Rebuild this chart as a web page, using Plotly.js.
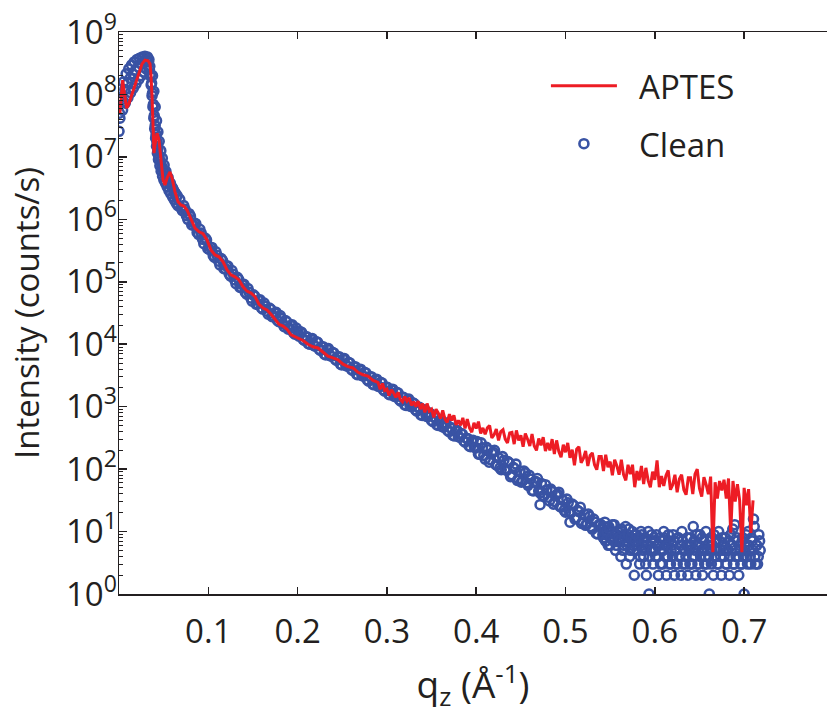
<!DOCTYPE html>
<html><head><meta charset="utf-8">
<script src="https://cdn.plot.ly/plotly-3.0.1.min.js"></script>
<style>html,body{margin:0;padding:0;background:#fff}</style>
</head><body>
<div id="chart" style="width:827px;height:719px"></div>
<script>
// q_z values (1/Angstrom) and log10(intensity, counts/s).
// ---- Clean sample: critical-edge region (three overlapping rows) and drop
const cleanQPeak = [0.002,0.005,0.008,0.011,0.014,0.017,0.020,0.023,0.026,0.029,0.032,
0.0005,0.0035,0.0065,0.0095,0.0125,0.0155,0.0185,0.0215,0.0245,0.0275,0.0305,0.0330,
0.0000,0.0010,0.0040,0.0070,0.0100,0.0130,0.0160,0.0190,0.0220,0.0250,0.0280,0.0310,
0.0335,0.0340,0.0345,0.0350,0.0355,0.0360,0.0365,0.0370,0.0375,0.0380,0.0385,0.0390,0.0395,0.0400,0.0405,0.0410,0.0415,0.0420,0.0425,0.0430,0.0435,0.0442,0.0450,0.0458,0.0465,0.0472,0.0480,0.0488,0.0495,0.0503,0.0510,0.0520,0.0530,0.0540,0.0550,0.0560,0.0570,0.0580,0.0590,0.0600,0.0610,0.0620,0.0630,0.0640,0.0650,0.0660,
0.0375,0.0390,0.0405,0.0420,0.0435,0.0450,0.0468,0.0485,0.0505,0.0525,0.0550,0.0575,0.0600,0.0625,0.0650];
const cleanLogPeak = [7.95,8.20,8.33,8.41,8.47,8.52,8.56,8.58,8.60,8.61,8.60,
7.70,7.92,8.08,8.18,8.26,8.33,8.39,8.44,8.49,8.53,8.55,8.52,
7.41,7.62,7.75,7.86,7.95,8.03,8.10,8.17,8.24,8.30,8.36,8.40,
8.56,8.40,8.45,8.30,8.33,8.15,8.18,7.98,8.02,7.80,7.84,7.62,7.66,7.45,7.50,7.30,7.36,7.17,7.24,7.06,7.13,6.96,7.02,6.86,6.93,6.77,6.85,6.69,6.79,6.63,6.74,6.58,6.68,6.52,6.62,6.46,6.57,6.41,6.52,6.36,6.47,6.31,6.42,6.26,6.38,6.22,
8.30,8.05,7.80,7.58,7.40,7.25,7.10,6.98,6.87,6.77,6.67,6.58,6.50,6.43,6.37];
// ---- Clean sample: decay band, first row
const cleanQBand = [0.068,0.071,0.074,0.077,0.080,0.083,0.086,0.089,0.092,0.095,0.098,
0.101,0.104,0.107,0.110,0.113,0.116,0.119,0.122,0.125,0.128,0.131,0.134,0.137,0.140,0.143,0.146,0.149,
0.152,0.155,0.158,0.161,0.164,0.167,0.170,0.173,0.176,0.179,0.182,0.185,0.188,0.191,0.194,0.197,0.200,
0.203,0.206,0.209,0.212,0.215,0.218,0.221,0.224,0.227,0.230,0.233,0.236,0.239,0.242,0.245,0.248,0.251,0.254,0.257,0.260,0.263,0.266,0.269,0.272,0.275,0.278,0.281,0.284,0.287,0.290,0.293,0.296,0.299,
0.302,0.305,0.308,0.311,0.314,0.317,0.320,0.323,0.326,0.329,0.332,0.335,0.338,0.341,0.344,0.347,0.350,0.353,0.356,0.359,0.362,0.365,0.368,0.371,0.374,0.377,0.380,0.383,0.386,0.389,0.392,0.395,0.398,
0.401,0.404,0.407,0.410,0.413,0.416,0.419,0.422,0.425,0.428,0.431,0.434,0.437,0.440,0.443,0.446,0.449,0.452,0.455,0.458,0.461,0.464,0.467,0.470,0.473,0.476,0.479,0.482,0.485,0.488,0.491,0.494,0.497,0.500,0.503,0.506,0.509,0.512,0.515,0.518,0.521,0.524,0.527,0.530,0.533,0.536,0.539,
0.4715,0.5050];
const cleanLogBand = [6.32,6.14,6.16,6.00,6.05,5.91,5.93,5.76,5.78,5.61,5.67,
5.52,5.55,5.39,5.42,5.27,5.34,5.21,5.25,5.09,5.12,4.97,5.04,4.91,4.96,4.80,4.83,4.69,
4.77,4.65,4.71,4.56,4.61,4.48,4.56,4.45,4.51,4.36,4.41,4.28,4.36,4.25,4.31,4.16,4.21,
4.20,4.08,4.12,4.01,4.08,3.98,4.04,3.92,3.96,3.84,3.92,3.82,3.87,3.76,3.80,3.68,3.76,3.66,3.71,3.60,3.64,3.52,3.59,3.50,3.55,3.43,3.48,3.36,3.43,3.33,3.39,3.27,3.31,
3.20,3.27,3.17,3.23,3.11,3.15,3.03,3.11,3.01,3.06,2.95,2.99,2.87,2.94,2.85,2.90,2.78,2.83,2.71,2.78,2.68,2.74,2.62,2.66,2.54,2.61,2.52,2.57,2.45,2.49,2.37,2.45,2.35,
2.44,2.24,2.34,2.16,2.31,2.15,2.27,2.07,2.18,1.99,2.14,1.98,2.10,1.91,2.01,1.82,1.97,1.81,1.94,1.74,1.84,1.65,1.80,1.65,1.77,1.57,1.67,1.49,1.64,1.48,1.60,1.40,1.50,1.31,1.46,1.30,1.42,1.22,1.32,1.13,1.28,1.12,1.24,1.04,1.15,0.96,1.12,
1.43,1.15];
// ---- Clean sample: decay band, second (interleaved) row
const cleanQBand2 = [0.0695,0.0725,0.0755,0.0785,0.0815,0.0845,0.0875,0.0905,0.0935,0.0965,0.0995,
0.1025,0.1055,0.1085,0.1115,0.1145,0.1175,0.1205,0.1235,0.1265,0.1295,0.1325,0.1355,0.1385,0.1415,0.1445,0.1475,
0.1505,0.1535,0.1565,0.1595,0.1625,0.1655,0.1685,0.1715,0.1745,0.1775,0.1805,0.1835,0.1865,0.1895,0.1925,0.1955,0.1985,
0.2015,0.2045,0.2075,0.2105,0.2135,0.2165,0.2195,0.2225,0.2255,0.2285,0.2315,0.2345,0.2375,0.2405,0.2435,0.2465,0.2495,
0.2525,0.2555,0.2585,0.2615,0.2645,0.2675,0.2705,0.2735,0.2765,0.2795,0.2825,0.2855,0.2885,0.2915,0.2945,0.2975,
0.3005,0.3035,0.3065,0.3095,0.3125,0.3155,0.3185,0.3215,0.3245,0.3275,0.3305,0.3335,0.3365,0.3395,0.3425,0.3455,0.3485,
0.3515,0.3545,0.3575,0.3605,0.3635,0.3665,0.3695,0.3725,0.3755,0.3785,0.3815,0.3845,0.3875,0.3905,0.3935,0.3965,0.3995,
0.4025,0.4055,0.4085,0.4115,0.4145,0.4175,0.4205,0.4235,0.4265,0.4295,0.4325,0.4355,0.4385,0.4415,0.4445,0.4475,
0.4505,0.4535,0.4565,0.4595,0.4625,0.4655,0.4685,0.4715,0.4745,0.4775,0.4805,0.4835,0.4865,0.4895,0.4925,0.4955,0.4985,
0.5015,0.5045,0.5075,0.5105,0.5135,0.5165,0.5195,0.5225,0.5255,0.5285,0.5315,0.5345,0.5375];
const cleanLogBand2 = [6.18,6.22,6.06,6.09,5.91,5.94,5.79,5.84,5.68,5.70,5.53,
5.55,5.42,5.48,5.33,5.37,5.21,5.25,5.12,5.18,5.03,5.07,4.91,4.95,4.83,4.89,4.74,
4.79,4.64,4.70,4.58,4.66,4.53,4.58,4.44,4.50,4.38,4.46,4.33,4.38,4.24,4.30,4.18,4.26,
4.13,4.19,4.06,4.12,4.00,4.09,3.97,4.03,3.90,3.96,3.83,3.93,3.81,3.86,3.74,3.80,3.67,
3.77,3.65,3.70,3.58,3.64,3.51,3.60,3.49,3.54,3.41,3.48,3.35,3.44,3.32,3.38,3.25,
3.31,3.19,3.28,3.16,3.22,3.09,3.15,3.02,3.12,3.00,3.05,2.93,2.99,2.86,2.95,2.84,2.89,
2.76,2.83,2.70,2.79,2.67,2.73,2.60,2.66,2.53,2.62,2.51,2.56,2.43,2.49,2.36,2.46,2.34,
2.24,2.42,2.22,2.35,2.11,2.25,2.30,2.06,2.02,2.20,2.00,2.12,1.88,2.03,2.08,1.84,
1.79,1.97,1.78,1.90,1.66,1.80,1.85,1.62,1.57,1.75,1.55,1.68,1.44,1.58,1.63,1.39,1.34,
1.52,1.32,1.44,1.20,1.34,1.39,1.15,1.10,1.28,1.08,1.20,0.97,1.11];
// ---- Clean sample: background floor (integer counts), two interleaved sweeps
const cleanQFloor = [0.5410,0.5425,0.5440,0.5455,0.5470,0.5485,0.5500,0.5515,0.5530,0.5545,0.5560,0.5575,0.5590,
0.5605,0.5620,0.5635,0.5650,0.5665,0.5680,0.5695,0.5710,0.5725,0.5740,0.5755,0.5770,0.5785,
0.5800,0.5815,0.5830,0.5845,0.5860,0.5875,0.5890,0.5905,0.5920,0.5935,0.5950,0.5965,0.5980,
0.5995,0.6010,0.6025,0.6040,0.6055,0.6070,0.6085,0.6100,0.6115,0.6130,0.6145,0.6160,0.6175,
0.6190,0.6205,0.6220,0.6235,0.6250,0.6265,0.6280,0.6295,0.6310,0.6325,0.6340,0.6355,0.6370,
0.6385,0.6400,0.6415,0.6430,0.6445,0.6460,0.6475,0.6490,0.6505,0.6520,0.6535,0.6550,0.6565,
0.6580,0.6595,0.6610,0.6625,0.6640,0.6655,0.6670,0.6685,0.6700,0.6715,0.6730,0.6745,0.6760,
0.6775,0.6790,0.6805,0.6820,0.6835,0.6850,0.6865,0.6880,0.6895,0.6910,0.6925,0.6940,0.6955,
0.6970,0.6985,0.7000,0.7015,0.7030,0.7045,0.7060,0.7075,0.7090,0.7105,0.7120,0.7135,0.7150,0.7165,0.7180];
const cleanLogFloor = [1.04,0.90,1.15,0.85,0.95,1.08,0.78,1.00,0.90,1.11,0.70,0.95,0.85,
0.90,0.60,1.00,0.78,0.95,0.48,0.85,1.04,0.70,0.90,0.78,0.30,0.95,
0.70,0.85,0.48,1.00,0.78,0.60,0.90,0.30,0.78,0.00,0.70,0.95,0.48,
0.85,0.60,0.78,0.30,0.90,0.70,0.48,1.00,0.78,0.30,0.60,0.85,0.48,
0.78,0.95,0.30,0.70,0.48,0.90,0.60,0.30,0.85,0.70,0.48,0.78,0.30,
0.70,0.90,0.48,1.08,0.60,0.30,0.78,0.48,0.95,0.70,0.30,0.85,0.60,
0.48,0.78,0.00,0.90,0.70,0.30,0.60,0.85,0.48,1.00,0.70,0.30,0.78,
0.60,0.90,0.48,0.70,0.30,0.95,0.78,0.48,1.11,0.60,0.85,0.30,0.70,
0.48,0.90,0.00,0.78,0.60,1.00,0.70,0.48,0.85,1.20,0.60,0.78,0.48,0.95,0.70];
const cleanQFloor2 = [0.5418,0.5433,0.5448,0.5463,0.5478,0.5493,0.5508,0.5523,0.5538,0.5553,0.5568,0.5583,0.5598,
0.5613,0.5628,0.5643,0.5658,0.5673,0.5688,0.5703,0.5718,0.5733,0.5748,0.5763,0.5778,0.5793,
0.5808,0.5823,0.5838,0.5853,0.5868,0.5883,0.5898,0.5913,0.5928,0.5943,0.5958,0.5973,0.5988,
0.6003,0.6018,0.6033,0.6048,0.6063,0.6078,0.6093,0.6108,0.6123,0.6138,0.6153,0.6168,0.6183,
0.6198,0.6213,0.6228,0.6243,0.6258,0.6273,0.6288,0.6303,0.6318,0.6333,0.6348,0.6363,0.6378,
0.6393,0.6408,0.6423,0.6438,0.6453,0.6468,0.6483,0.6498,0.6513,0.6528,0.6543,0.6558,0.6573,
0.6588,0.6603,0.6618,0.6633,0.6648,0.6663,0.6678,0.6693,0.6708,0.6723,0.6738,0.6753,0.6768,
0.6783,0.6798,0.6813,0.6828,0.6843,0.6858,0.6873,0.6888,0.6903,0.6918,0.6933,0.6948,0.6963,
0.6978,0.6993,0.7008,0.7023,0.7038,0.7053,0.7068,0.7083,0.7098,0.7113,0.7128,0.7143,0.7158,0.7173];
const cleanLogFloor2 = [0.95,1.08,0.85,1.00,0.78,1.04,0.90,1.11,0.85,0.95,0.78,1.00,0.90,
0.85,1.04,0.70,0.90,1.08,0.78,0.95,0.60,0.90,1.00,0.70,0.85,0.95,
0.78,0.90,0.60,0.95,0.70,0.85,0.48,0.78,1.00,0.60,0.85,0.70,0.90,
0.70,0.95,0.60,0.78,0.48,0.85,0.70,0.90,0.60,0.78,0.95,0.48,0.70,
0.60,0.85,0.70,0.48,0.90,0.60,0.78,1.00,0.48,0.70,0.60,0.90,0.78,
0.48,0.78,0.60,0.85,0.70,0.95,0.48,0.78,0.60,0.90,0.70,0.48,1.00,
0.70,0.60,0.85,0.48,0.78,0.95,0.60,0.70,0.48,0.85,0.60,0.90,0.70,
0.78,0.48,0.70,0.85,0.60,0.78,1.04,0.48,0.70,0.90,0.60,0.78,0.48,
0.85,0.60,0.70,0.95,0.48,0.78,0.60,0.90,0.70,1.08,0.48,0.78,0.60,0.85];

// ---- APTES sample: fringes
const aptesQFringe = [0.0010,0.0025,0.0041,0.0060,0.0086,0.0110,0.0135,0.0168,0.0213,0.0258,0.0291,0.0325,0.0347,0.0358,0.0370,0.0381,0.0392,0.0403,0.0426,0.0448,0.0470,0.0493,0.0515,0.0538,0.0571,0.0594,0.0627,0.0661,0.0694,0.0728,0.0761,0.0806,0.0851,0.0896,0.0941,0.0985,0.1030,0.1075,0.1120,0.1165,0.1210,0.1254,0.1299,0.1344,0.1389,0.1433,0.1478,0.1523,0.1568,0.1613,0.1657,0.1702,0.1747,0.1792,0.1837,0.1881,0.1926,0.1971,0.2016,0.2060,0.2116,0.2172,0.2228,0.2284,0.2340,0.2396,0.2452,0.2508,0.2564,0.2620,0.2676,0.2732,0.2788,0.2844];
const aptesLogFringe = [7.70,7.98,8.23,8.02,7.78,7.85,7.96,8.10,8.31,8.49,8.55,8.54,8.49,8.31,7.96,7.51,7.06,7.19,7.38,7.27,6.95,6.63,6.55,6.66,6.76,6.66,6.44,6.28,6.23,6.21,6.15,5.99,5.86,5.80,5.77,5.67,5.51,5.43,5.40,5.32,5.19,5.11,5.08,5.03,4.92,4.85,4.82,4.76,4.64,4.58,4.55,4.48,4.39,4.32,4.29,4.24,4.15,4.12,4.10,4.06,4.00,3.96,3.94,3.88,3.81,3.78,3.75,3.68,3.64,3.62,3.55,3.51,3.49,3.42];
// ---- APTES sample: noisy tail
const aptesQTail = [0.2900,0.2925,0.2950,0.2975,0.3000,0.3025,0.3050,0.3075,0.3100,0.3125,0.3150,0.3175,0.3200,0.3225,0.3250,0.3275,0.3300,0.3325,0.3350,0.3375,
0.3400,0.3425,0.3450,0.3475,0.3500,0.3525,0.3550,0.3575,0.3600,0.3625,0.3650,0.3675,0.3700,0.3725,0.3750,0.3775,0.3800,0.3825,0.3850,0.3875,
0.3900,0.3925,0.3950,0.3975,0.4000,0.4025,0.4050,0.4075,0.4100,0.4125,0.4150,0.4175,0.4200,0.4225,0.4250,0.4275,0.4300,0.4325,0.4350,0.4375,
0.4400,0.4425,0.4450,0.4475,0.4500,0.4525,0.4550,0.4575,0.4600,0.4625,0.4650,0.4675,0.4700,0.4725,0.4750,0.4775,0.4800,0.4825,0.4850,0.4875,
0.4900,0.4925,0.4950,0.4975,0.5000,0.5025,0.5050,0.5075,0.5100,0.5125,0.5150,0.5175,0.5200,0.5225,0.5250,0.5275,0.5300,0.5325,0.5350,0.5375,
0.5400,0.5425,0.5450,0.5475,0.5500,0.5525,0.5550,0.5575,0.5600,0.5625,0.5650,0.5675,0.5700,0.5725,0.5750,0.5775,0.5800,0.5825,0.5850,0.5875,
0.5900,0.5925,0.5950,0.5975,0.6000,0.6025,0.6050,0.6075,0.6100,0.6125,0.6150,0.6175,0.6200,0.6225,0.6250,0.6275,0.6300,0.6325,0.6350,0.6375,
0.6400,0.6425,0.6450,0.6475,0.6500,0.6525,0.6550,0.6575,0.6600,0.6625,0.6650,0.6675,0.6700,0.6725,0.6750,0.6775,0.6800,0.6825,0.6850,0.6875,
0.6900,0.6925,0.6950,0.6975,0.7000,0.7025,0.7050,0.7075,0.7100];
const aptesLogTail = [3.39,3.28,3.37,3.26,3.28,3.18,3.27,3.22,3.15,3.23,3.12,3.08,3.16,3.09,3.14,3.02,3.08,3.00,3.09,2.96,
3.05,2.91,3.05,2.93,2.96,2.83,2.96,2.90,2.81,2.94,2.80,2.75,2.88,2.78,2.86,2.71,2.78,2.70,2.82,2.65,
2.80,2.66,2.59,2.74,2.65,2.76,2.57,2.66,2.56,2.66,2.70,2.50,2.55,2.64,2.46,2.60,2.63,2.48,2.42,2.58,
2.59,2.40,2.62,2.46,2.54,2.36,2.57,2.48,2.37,2.56,2.37,2.30,2.49,2.38,2.51,2.29,2.42,2.30,2.48,2.24,
2.46,2.28,2.19,2.39,2.27,2.42,2.18,2.31,2.06,2.32,2.36,2.10,2.17,2.29,2.05,2.22,2.26,2.07,1.99,2.20,
2.20,1.97,2.23,2.03,2.12,1.90,2.15,2.05,1.91,2.15,1.91,1.82,2.07,1.92,2.07,1.71,1.97,1.82,2.05,1.76,
2.02,1.82,1.71,1.96,1.83,2.14,1.71,1.89,1.73,1.90,1.98,1.67,1.75,1.91,1.63,1.84,1.91,1.67,1.59,1.86,
1.86,1.60,1.92,2.00,1.69,1.56,1.87,1.75,1.60,1.88,0.67,1.79,1.53,1.81,1.66,1.83,1.53,1.85,0.98,1.81,
1.48,1.76,1.50,0.67,1.70,1.42,1.68,0.98,1.50];

// tick labels
const xTickVals = [0.1,0.2,0.3,0.4,0.5,0.6,0.7];
const xTickText = ['0.1','0.2','0.3','0.4','0.5','0.6','0.7'];
const yTickVals = [1,1e1,1e2,1e3,1e4,1e5,1e6,1e7,1e8,1e9];
const yTickText = ['10<sup>0</sup>','10<sup>1</sup>','10<sup>2</sup>','10<sup>3</sup>','10<sup>4</sup>','10<sup>5</sup>','10<sup>6</sup>','10<sup>7</sup>','10<sup>8</sup>','10<sup>9</sup>'];

const toI = a => a.map(v => Math.pow(10, v));
const cleanQ = [].concat(cleanQPeak, cleanQBand, cleanQBand2, cleanQFloor, cleanQFloor2);
const cleanI = toI([].concat(cleanLogPeak, cleanLogBand, cleanLogBand2, cleanLogFloor, cleanLogFloor2));
const aptesQ = [].concat(aptesQFringe, aptesQTail);
const aptesI = toI([].concat(aptesLogFringe, aptesLogTail));

const minorVals = [];
for (let e = 0; e < 9; e++) for (let m = 2; m <= 9; m++) minorVals.push(m * Math.pow(10, e));

const ink = '#231f20';
const font = 'Open Sans, DejaVu Sans, sans-serif';
const NB = '\u00a0';

const traces = [
  {x: cleanQ, y: cleanI, name: NB + NB + 'Clean', type: 'scatter', mode: 'markers',
   marker: {symbol: 'circle-open', size: 9, color: '#3953a4', line: {width: 2.6, color: '#3953a4'}},
   legendgroup: 'clean', legendrank: 2},
  {x: aptesQ, y: aptesI, name: NB + NB + 'APTES', type: 'scatter', mode: 'lines',
   line: {color: '#ed1c24', width: 3}, legendgroup: 'aptes', legendrank: 1}
];

const layout = {
  width: 827, height: 719,
  margin: {l: 119, r: 0, t: 32, b: 125},
  paper_bgcolor: '#fff', plot_bgcolor: '#fff',
  font: {family: font, color: ink, size: 33},
  showlegend: true,
  legend: {x: 0.603, y: 0.954, xanchor: 'left', yanchor: 'top', traceorder: 'grouped',
           itemwidth: 66, font: {size: 33, color: ink}, bgcolor: 'rgba(0,0,0,0)', tracegroupgap: 12},
  xaxis: {range: [0, 0.7928], tickmode: 'array', tickvals: xTickVals, ticktext: xTickText,
          ticks: 'inside', ticklen: 7, tickwidth: 1.5, tickcolor: ink,
          showline: true, linecolor: ink, linewidth: 1.5, mirror: 'ticks',
          showgrid: false, zeroline: false, ticklabelstandoff: 8,
          tickfont: {family: font, size: 33, color: ink},
          title: {text: NB + NB + NB + NB + 'q<sub>z</sub> (Å<sup>-1</sup>)', font: {family: font, size: 37, color: ink}, standoff: 20}},
  yaxis: {type: 'log', range: [0, 9], tickmode: 'array', tickvals: yTickVals, ticktext: yTickText,
          ticks: 'inside', ticklen: 8, tickwidth: 1.5, tickcolor: ink,
          showline: true, linecolor: ink, linewidth: 1.5, mirror: false,
          showgrid: false, zeroline: false, ticklabelstandoff: -6,
          minor: {tickmode: 'array', tickvals: minorVals, ticks: 'inside', ticklen: 4, tickwidth: 1, tickcolor: ink, showgrid: false},
          tickfont: {family: font, size: 33, color: ink},
          title: {text: 'Intensity (counts/s)', font: {family: font, size: 33, color: ink}, standoff: 16}}
};

Plotly.newPlot('chart', traces, layout, {displayModeBar: false, staticPlot: true});
</script>
</body></html>
